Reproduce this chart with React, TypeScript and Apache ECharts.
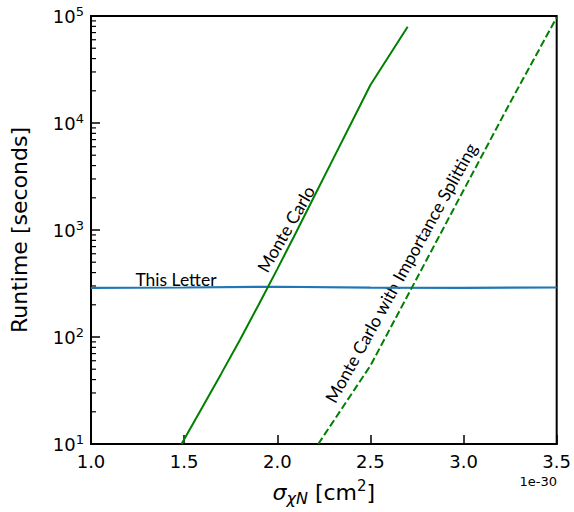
import React, { useEffect, useRef } from "react";
import * as echarts from "echarts";

// Monte Carlo (solid green)
const mcX = [1.486, 1.6, 1.7, 1.8, 1.9, 2.0, 2.1, 2.2, 2.3, 2.4, 2.5, 2.7];
const mcRuntime = [10, 22.4, 45.7, 94.4, 200, 431, 944, 2090, 4620, 10230, 22650, 79400];

// Monte Carlo with Importance Splitting (dashed green)
const misX = [2.22, 2.5, 2.7, 3.0, 3.25, 3.5];
const misRuntime = [10, 54, 244, 2350, 15500, 97000];

// This Letter (blue)
const letterX = [1.0, 1.5, 2.0, 2.5, 3.0, 3.5];
const letterRuntime = [288, 290, 295, 289, 288, 290];

const xMin = 1.0;
const xMax = 3.5;
const yMin = 10;
const yMax = 100000;
const minorMultipliers = [2, 3, 4, 5, 6, 7, 8, 9];
const decades = [10, 100, 1000, 10000];

const AXIS_FONT = "DejaVu Sans";
const NOTE_FONT = "Lato";

export default function App() {
  const ref = useRef<HTMLDivElement>(null);

  useEffect(() => {
    if (!ref.current) return;
    const chart = echarts.init(ref.current, null, { renderer: "svg" });

    const minorTicks: number[][] = [];
    decades.forEach((d) => minorMultipliers.forEach((m) => minorTicks.push([xMin, d * m])));

    const option: any = {
      animation: false,
      grid: {
        left: 89,
        right: 15,
        top: 16,
        bottom: 68,
        show: true,
        borderColor: "#000",
        borderWidth: 2,
        backgroundColor: "transparent",
      },
      xAxis: {
        type: "value",
        min: xMin,
        max: xMax,
        interval: 0.5,
        splitLine: { show: false },
        axisLine: { show: true, lineStyle: { color: "#000", width: 2 } },
        axisTick: { show: true, inside: true, length: 9, lineStyle: { color: "#000", width: 1.5 } },
        axisLabel: {
          color: "#000",
          fontFamily: AXIS_FONT,
          fontSize: 18,
          margin: 8,
          formatter: (v: number) => v.toFixed(1),
        },
        name: "{i|σ}{sub|χN}{n| [cm}{sup|2}{n|]}",
        nameLocation: "middle",
        nameGap: 34,
        nameTextStyle: {
          color: "#000",
          rich: {
            i: { fontFamily: AXIS_FONT, fontSize: 22, fontStyle: "italic", lineHeight: 28, color: "#000" },
            sub: { fontFamily: AXIS_FONT, fontSize: 16, fontStyle: "italic", lineHeight: 16, verticalAlign: "bottom", color: "#000" },
            n: { fontFamily: AXIS_FONT, fontSize: 22, lineHeight: 28, color: "#000" },
            sup: { fontFamily: AXIS_FONT, fontSize: 15, lineHeight: 15, verticalAlign: "top", color: "#000" },
          },
        },
      },
      yAxis: {
        type: "log",
        logBase: 10,
        min: yMin,
        max: yMax,
        splitNumber: 4,
        splitLine: { show: false },
        minorTick: { show: false },
        axisLine: { show: true, lineStyle: { color: "#000", width: 2 } },
        axisTick: { show: true, inside: true, length: 9, lineStyle: { color: "#000", width: 1.5 } },
        axisLabel: {
          margin: 7,
          formatter: (v: number) => "{b|10}{s|" + Math.round(Math.log10(v)) + "}",
          rich: {
            b: { fontFamily: AXIS_FONT, fontSize: 18, lineHeight: 22, color: "#000" },
            s: { fontFamily: AXIS_FONT, fontSize: 13, lineHeight: 13, verticalAlign: "top", color: "#000" },
          },
        },
        name: "Runtime [seconds]",
        nameLocation: "middle",
        nameGap: 61,
        nameTextStyle: { color: "#000", fontFamily: AXIS_FONT, fontSize: 22 },
      },
      series: [
        {
          name: "This Letter",
          type: "line",
          data: letterX.map((x, i) => [x, letterRuntime[i]]),
          showSymbol: false,
          lineStyle: { color: "#1f77b4", width: 2.2 },
          z: 3,
        },
        {
          name: "Monte Carlo",
          type: "line",
          data: mcX.map((x, i) => [x, mcRuntime[i]]),
          showSymbol: false,
          clip: true,
          lineStyle: { color: "#008000", width: 2 },
          z: 4,
        },
        {
          name: "Monte Carlo with Importance Splitting",
          type: "line",
          data: misX.map((x, i) => [x, misRuntime[i]]),
          showSymbol: false,
          clip: true,
          lineStyle: { color: "#008000", width: 2, type: [7.4, 3.2] },
          z: 4,
        },
        {
          name: "minor ticks",
          type: "custom",
          silent: true,
          data: minorTicks,
          renderItem: (params: any, api: any) => {
            const p = api.coord([api.value(0), api.value(1)]);
            return {
              type: "line",
              shape: { x1: p[0], y1: p[1], x2: p[0] + 5, y2: p[1] },
              style: { stroke: "#000", lineWidth: 1.2 },
            };
          },
          z: 5,
        },
      ],
      graphic: [
        {
          type: "text",
          x: 176,
          y: 279,
          style: {
            text: "This Letter",
            fontFamily: NOTE_FONT,
            fontSize: 17.5,
            fill: "#000",
            align: "center",
            verticalAlign: "middle",
          },
        },
        {
          type: "text",
          x: 286,
          y: 229,
          rotation: (60 * Math.PI) / 180,
          style: {
            text: "Monte Carlo",
            fontFamily: NOTE_FONT,
            fontSize: 17.5,
            fill: "#000",
            align: "center",
            verticalAlign: "middle",
          },
        },
        {
          type: "text",
          x: 401,
          y: 273,
          rotation: (61 * Math.PI) / 180,
          style: {
            text: "Monte Carlo with Importance Splitting",
            fontFamily: NOTE_FONT,
            fontSize: 17.5,
            fill: "#000",
            align: "center",
            verticalAlign: "middle",
          },
        },
        {
          type: "text",
          x: 557,
          y: 481,
          style: {
            text: "1e-30",
            fontFamily: AXIS_FONT,
            fontSize: 13,
            fill: "#000",
            align: "right",
            verticalAlign: "middle",
          },
        },
      ],
    };

    chart.setOption(option);
    return () => chart.dispose();
  }, []);

  return (
    <div
      ref={ref}
      style={{ position: "absolute", left: 0, top: 0, width: 574, height: 512, background: "#fff" }}
    />
  );
}
